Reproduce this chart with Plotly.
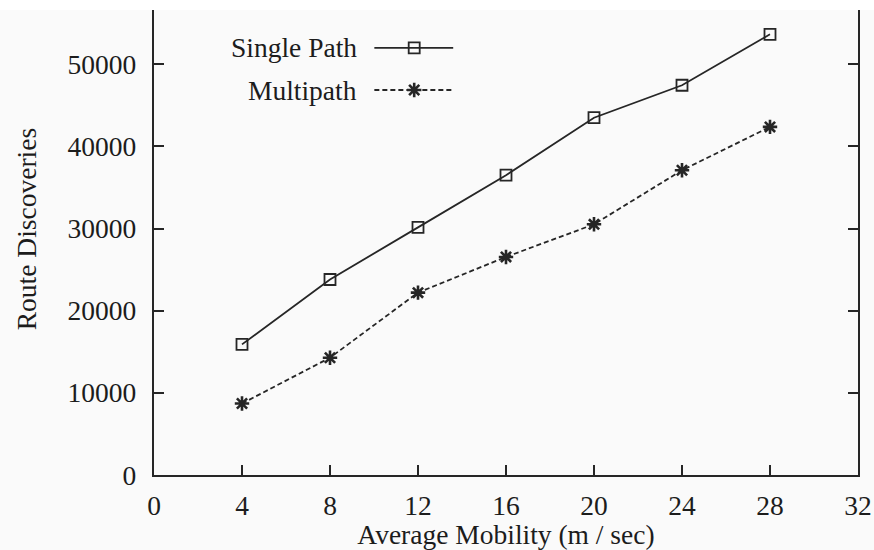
import plotly.graph_objects as go

# Average node mobility (m/sec)
mobility = [4, 8, 12, 16, 20, 24, 28]
# Number of route discoveries per protocol variant
single_path = [15900, 23800, 30150, 36500, 43500, 47450, 53650]
multipath = [8700, 14280, 22200, 26550, 30520, 37100, 42380]

x_ticks = [0, 4, 8, 12, 16, 20, 24, 28, 32]
y_ticks = [0, 10000, 20000, 30000, 40000, 50000]

INK = "#262626"
FONT = dict(family="Liberation Serif, Times New Roman, serif", size=27.5, color="#1c1c1c")

fig = go.Figure()

fig.add_trace(go.Scatter(
    x=mobility, y=single_path, mode="lines+markers", name="Single Path",
    line=dict(color=INK, width=1.8),
    marker=dict(symbol="square-open", size=11, color=INK, line=dict(width=1.8)),
    showlegend=False,
))
fig.add_trace(go.Scatter(
    x=mobility, y=multipath, mode="lines+markers", name="Multipath",
    line=dict(color=INK, width=1.8, dash="5px,3px"),
    marker=dict(symbol="asterisk-open", size=12, color=INK, line=dict(width=2.6, color=INK)),
    showlegend=False,
))

# Key samples drawn on a hidden 0..1 overlay so they sit beside the key text
key_x = [0.313, 0.425]
key_mid = 0.3696
for yk, dash, sym, sz, lw in [(0.899, "solid", "square-open", 11, 1.8),
                              (0.8105, "5px,3px", "asterisk-open", 12, 2.6)]:
    fig.add_trace(go.Scatter(
        x=key_x, y=[yk, yk], xaxis="x2", yaxis="y2", mode="lines",
        line=dict(color=INK, width=1.8, dash=dash), showlegend=False, hoverinfo="skip",
    ))
    fig.add_trace(go.Scatter(
        x=[key_mid], y=[yk], xaxis="x2", yaxis="y2", mode="markers",
        marker=dict(symbol=sym, size=sz, color=INK, line=dict(width=lw, color=INK)),
        showlegend=False, hoverinfo="skip",
    ))

annotations = [
    dict(text="Single Path", xref="x2", yref="y2", x=0.291, y=0.899,
         xanchor="right", yanchor="middle", showarrow=False, font=FONT),
    dict(text="Multipath", xref="x2", yref="y2", x=0.291, y=0.8105,
         xanchor="right", yanchor="middle", showarrow=False, font=FONT),
    dict(text="Route Discoveries", xref="paper", yref="paper", x=-0.18, y=0.518,
         xanchor="center", yanchor="middle", textangle=-90, showarrow=False, font=FONT),
]

fig.update_layout(
    width=874, height=550,
    margin=dict(l=153.5, r=15.7, t=0, b=75),
    paper_bgcolor="#fafafa", plot_bgcolor="#fafafa",
    font=FONT,
    annotations=annotations,
    xaxis=dict(
        range=[0, 32], tickvals=x_ticks, ticktext=[str(v) for v in x_ticks],
        ticks="inside", ticklen=10, tickwidth=2, tickcolor=INK,
        showline=True, linewidth=2.4, linecolor=INK, mirror=False,
        showgrid=False, zeroline=False, ticklabelstandoff=5,
        title=dict(text="Average Mobility (m / sec)", font=FONT, standoff=0),
    ),
    yaxis=dict(
        range=[0, 57830], tickvals=y_ticks, ticktext=[str(v) for v in y_ticks],
        ticks="inside", ticklen=10, tickwidth=2, tickcolor=INK,
        showline=True, linewidth=2.4, linecolor=INK, mirror="ticks",
        showgrid=False, zeroline=False, ticklabelstandoff=10,
    ),
    xaxis2=dict(overlaying="x", range=[0, 1], visible=False),
    yaxis2=dict(overlaying="y", range=[0, 1], visible=False),
    shapes=[dict(type="rect", xref="paper", yref="paper", x0=-0.3, x1=1.1,
                 y0=0.979, y1=1.01, fillcolor="white", line=dict(width=0), layer="above")],
)

fig.write_html("out.html")
